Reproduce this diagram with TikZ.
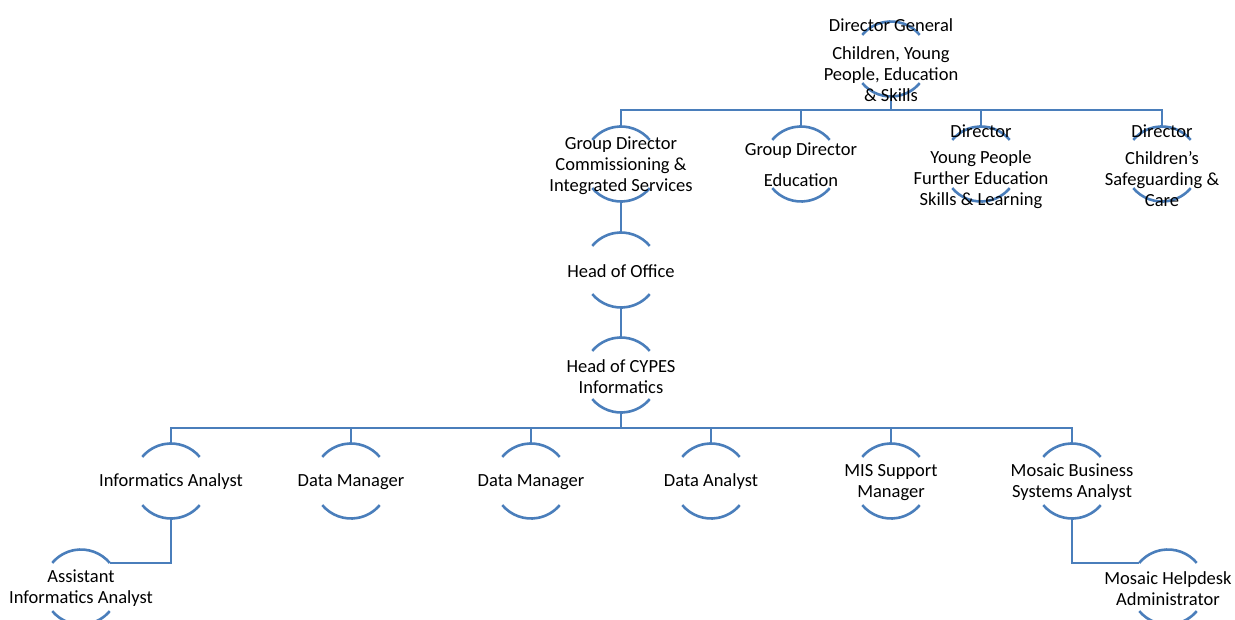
\documentclass[tikz,border=0pt]{standalone}
\usepackage{fontspec}
\setmainfont{Carlito}
\usetikzlibrary{calc}
\definecolor{ln}{RGB}{74,126,187}
\tikzset{
 pc/.style={circle,minimum size=75pt,inner sep=0pt,outer sep=0pt},
 arcl/.style={draw=ln,line width=2.6pt},
 conn/.style={draw=ln,line width=2.3pt},
 lbl/.style={align=center,font=\fontsize{18.5}{21}\selectfont,inner sep=0pt,text=black,yshift=-2pt},
}
\newcommand\circnode[3]{%
 \node[pc] (#1) at (#2,#3) {};
 \draw[arcl] (#1.40) arc[start angle=40,end angle=140,radius=37.5pt];
 \draw[arcl] (#1.220) arc[start angle=220,end angle=320,radius=37.5pt];
}
\begin{document}
\begin{tikzpicture}[x=1pt,y=1pt]
\useasboundingbox (0,0) rectangle (1235,-619);
% circles
\circnode{dg}{891}{-59}
\circnode{gda}{621}{-164}
\circnode{gdb}{801}{-164}
\circnode{dc}{981}{-164}
\circnode{dd}{1162}{-164}
\circnode{hoo}{621}{-270}
\circnode{hcy}{621}{-375}
\circnode{ia}{171}{-481}
\circnode{dma}{351}{-481}
\circnode{dmb}{531}{-481}
\circnode{da}{711}{-481}
\circnode{mis}{891}{-481}
\circnode{mba}{1072}{-481}
\circnode{asst}{81}{-587}
\circnode{mha}{1168}{-587}
% bars
\coordinate (b1) at (891,-110);
\coordinate (b2) at (621,-428);
% connectors
\draw[conn] (dg.south) -- (b1);
\foreach \c in {gda,gdb,dc,dd} \draw[conn] (b1) -| (\c.north);
\draw[conn] (gda.south) -- (hoo.north);
\draw[conn] (hoo.south) -- (hcy.north);
\draw[conn] (hcy.south) -- (b2);
\foreach \c in {ia,dma,dmb,da,mis,mba} \draw[conn] (b2) -| (\c.north);
\draw[conn] (ia.south) |- (asst.40);
\draw[conn] (mba.south) |- (mha.140);
% texts
\node[lbl] (tdg) at (891,-23) {Director General};
\node[lbl] (tdgb) at (891,-72) {Children, Young\\People, Education\\\& Skills};
\node[lbl] (tgda) at (621,-164) {Group Director\\Commissioning \&\\Integrated Services};
\node[lbl] (tgdb) at (801,-149) {Group Director};
\node[lbl] (tgdbb) at (801,-178) {Education};
\node[lbl] (tdc) at (981,-129) {Director};
\node[lbl] (tdcb) at (981,-177.5) {Young People\\Further Education\\Skills \& Learning};
\node[lbl] (tdd) at (1162,-129) {Director};
\node[lbl] (tddb) at (1162,-177.5) {Children’s\\Safeguarding \&\\Care};
\node[lbl] (thoo) at (621,-269) {Head of Office};
\node[lbl] (thcy) at (621,-374.5) {Head of CYPES\\Informatics};
\node[lbl] (tia) at (171,-480) {Informatics Analyst};
\node[lbl] (tdma) at (351,-480) {Data Manager};
\node[lbl] (tdmb) at (531,-480) {Data Manager};
\node[lbl] (tda) at (711,-480) {Data Analyst};
\node[lbl] (tmis) at (891,-480.5) {MIS Support\\Manager};
\node[lbl] (tmba) at (1072,-480.5) {Mosaic Business\\Systems Analyst};
\node[lbl] (tasst) at (81,-586.5) {Assistant\\Informatics Analyst};
\node[lbl] (tmha) at (1168,-586.5) {Mosaic Helpdesk\\Administrator};
\end{tikzpicture}
\end{document}
